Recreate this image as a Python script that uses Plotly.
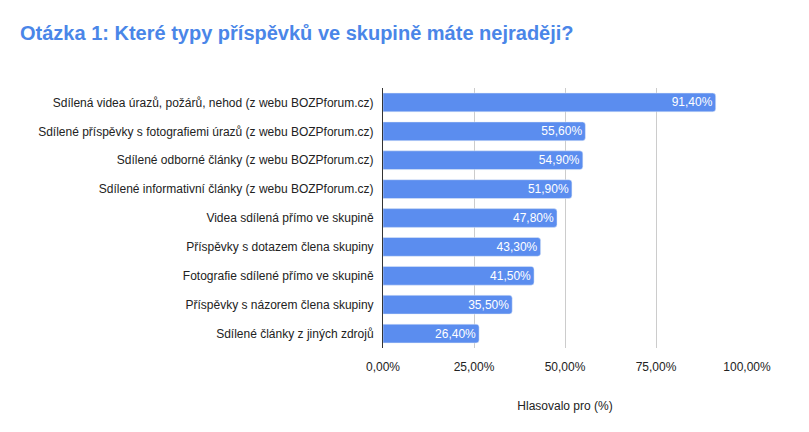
import plotly.graph_objects as go

categories = [
    "Sdílená videa úrazů, požárů, nehod (z webu BOZPforum.cz)",
    "Sdílené příspěvky s fotografiemi úrazů (z webu BOZPforum.cz)",
    "Sdílené odborné články (z webu BOZPforum.cz)",
    "Sdílené informativní články (z webu BOZPforum.cz)",
    "Videa sdílená přímo ve skupině",
    "Příspěvky s dotazem člena skupiny",
    "Fotografie sdílené přímo ve skupině",
    "Příspěvky s názorem člena skupiny",
    "Sdílené články z jiných zdrojů",
]
votes_pct = [91.4, 55.6, 54.9, 51.9, 47.8, 43.3, 41.5, 35.5, 26.4]
tick_vals = [0, 25, 50, 75, 100]
tick_text = ["0,00%", "25,00%", "50,00%", "75,00%", "100,00%"]

# the page body has an 8px default margin, so margins are offset by that
fig = go.Figure(
    go.Bar(
        x=votes_pct,
        y=categories,
        orientation="h",
        marker=dict(color="#5b8def", cornerradius=3),
        texttemplate="%{x:.2f}%",
        textposition="inside",
        insidetextanchor="end",
        constraintext="none",
        textfont=dict(color="white", size=12),
        hoverinfo="x+y",
    )
)

fig.update_layout(
    width=809,
    height=432,
    margin=dict(l=375, r=70, t=80, b=92),
    plot_bgcolor="white",
    paper_bgcolor="white",
    separators=", ",
    bargap=0.35,
    font=dict(family="Liberation Sans, Arial, sans-serif", size=12, color="#222222"),
    title=dict(
        text="<b>Otázka 1: Které typy příspěvků ve skupině máte nejraději?</b>",
        xref="container",
        x=12 / 809,
        xanchor="left",
        y=1 - 25 / 432,
        yanchor="middle",
        pad=dict(l=0, r=0, t=0, b=0),
        font=dict(family="Liberation Sans, Arial, sans-serif", size=20, color="#4a86e8"),
    ),
    showlegend=False,
)

fig.update_xaxes(
    range=[0, 100],
    tickvals=tick_vals,
    ticktext=tick_text,
    showgrid=True,
    gridcolor="#cccccc",
    zeroline=False,
    ticks="",
    automargin=False,
    ticklabelstandoff=10,
    title=dict(text="Hlasovalo pro (%)", standoff=28, font=dict(size=12)),
)

fig.update_yaxes(
    autorange="reversed",
    showline=True,
    linecolor="#333333",
    linewidth=1,
    ticks="",
    automargin=False,
    ticklabelstandoff=6,
)

fig.write_html("out.html")
